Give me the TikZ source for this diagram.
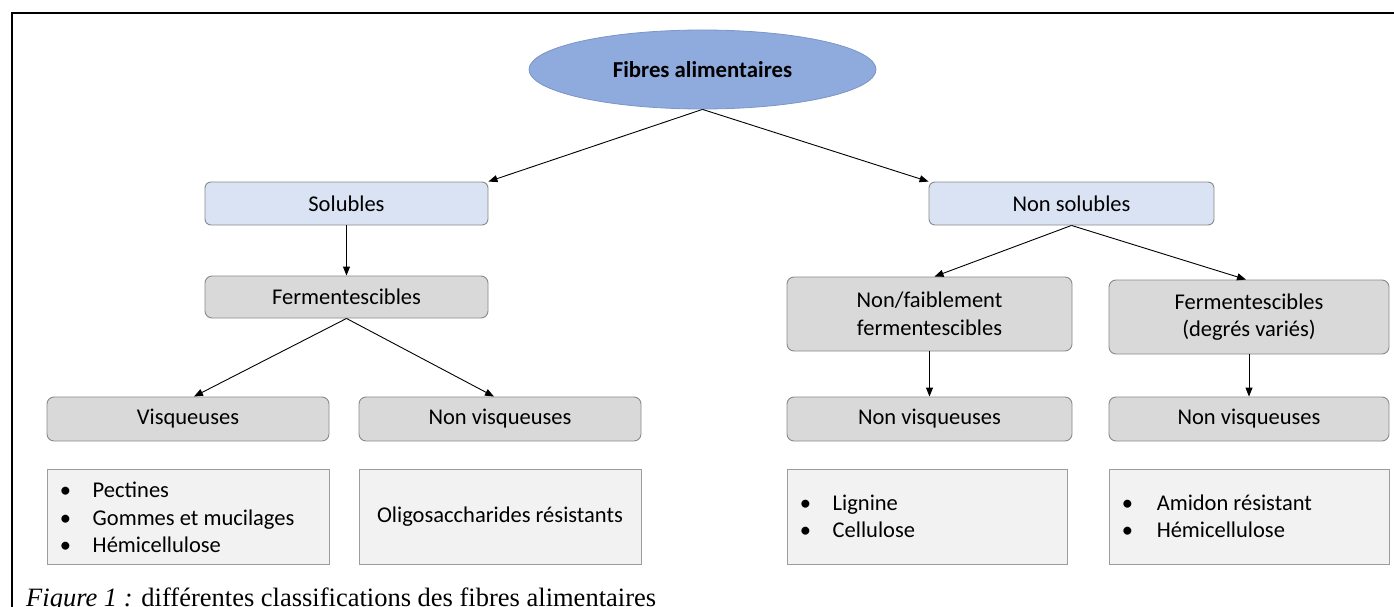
\documentclass[tikz,border=0pt]{standalone}
\usepackage{fontspec}
\setmainfont{Carlito}
\newfontfamily\capfont{Liberation Serif}
\usetikzlibrary{shapes.geometric,arrows.meta}
\definecolor{ellfill}{HTML}{8FAADC}
\definecolor{ellline}{HTML}{7A95C6}
\definecolor{bluebox}{HTML}{DAE3F3}
\definecolor{greybox}{HTML}{D9D9D9}
\definecolor{listbox}{HTML}{F2F2F2}
\definecolor{boxline}{HTML}{8A8A8A}
\begin{document}
\begin{tikzpicture}[x=1pt,y=-1pt,
  every node/.style={font=\fontsize{22.5}{27.5}\selectfont, text=black},
  rootnode/.style={ellipse, draw=ellline, fill=ellfill, line width=0.8pt, minimum width=347pt, minimum height=79pt, inner sep=0pt, font=\fontsize{22.8}{26}\selectfont\bfseries},
  bluenode/.style={rectangle, rounded corners=6pt, draw=boxline, fill=bluebox, line width=0.9pt, minimum height=43pt, inner sep=0pt},
  greynode/.style={rectangle, rounded corners=7pt, draw=boxline, fill=greybox, line width=0.9pt, inner sep=0pt, align=center},
  listnode/.style={rectangle, draw=boxline!85, fill=listbox, line width=0.9pt, minimum height=95pt, inner sep=0pt},
  listtext/.style={anchor=west, align=left, inner sep=0pt},
  arr/.style={-{Triangle[length=9pt,width=7pt]}, line width=0.9pt, draw=black}
]
\useasboundingbox (0,0) rectangle (1394,607);
\fill[white] (0,0) rectangle (1394,607);
\draw[line width=2pt] (12,607) -- (12,13) -- (1394,13);

\node[rootnode] (root) at (702.5,69.5) {Fibres alimentaires};

\node[bluenode, minimum width=283pt] (sol) at (346.5,203.5) {Solubles};
\node[bluenode, minimum width=285pt] (nsol) at (1071.5,203.5) {Non solubles};

\node[greynode, minimum width=283pt, minimum height=42pt] (ferm) at (346.5,297) {Fermentescibles};
\node[greynode, minimum width=282pt, minimum height=44pt] (visq) at (188,419) {Visqueuses};
\node[greynode, minimum width=282pt, minimum height=44pt] (nvisq) at (500,419) {Non visqueuses};

\node[greynode, minimum width=285pt, minimum height=74pt] (nf) at (929.5,314) {Non/faiblement\\fermentescibles};
\node[greynode, minimum width=280pt, minimum height=74pt] (fdv) at (1249,317) {Fermentescibles\\(degrés variés)};
\node[greynode, minimum width=285pt, minimum height=44pt] (nvb) at (929.5,419) {Non visqueuses};
\node[greynode, minimum width=280pt, minimum height=44pt] (nvc) at (1249,419) {Non visqueuses};

\node[listnode, minimum width=282pt] (la) at (188,516.5) {};
\node[listnode, minimum width=282pt] (lb) at (500,516.5) {Oligosaccharides résistants};
\node[listnode, minimum width=280pt] (lc) at (927,516.5) {};
\node[listnode, minimum width=280pt] (ld) at (1249,516.5) {};

\node[listtext] (lat) at ([xshift=13pt,yshift=-1pt]la.west)
  {\makebox[33pt][l]{•}Pectines\\\makebox[33pt][l]{•}Gommes et mucilages\\\makebox[33pt][l]{•}Hémicellulose};
\node[listtext] (lct) at ([xshift=13pt]lc.west)
  {\makebox[33pt][l]{•}Lignine\\\makebox[33pt][l]{•}Cellulose};
\node[listtext] (ldt) at ([xshift=13pt]ld.west)
  {\makebox[35pt][l]{•}Amidon résistant\\\makebox[35pt][l]{•}Hémicellulose};

\draw[arr] (root.south) -- (sol.north east);
\draw[arr] (root.south) -- (nsol.north west);
\draw[arr] (sol.south) -- (ferm.north);
\draw[arr] (ferm.south) -- ([xshift=6pt]visq.north);
\draw[arr] (ferm.south) -- ([xshift=-6pt]nvisq.north);
\draw[arr] (nsol.south) -- ([xshift=5pt]nf.north);
\draw[arr] (nsol.south) -- ([xshift=-3pt]fdv.north);
\draw[arr] (nf.south) -- (nvb.north);
\draw[arr] (fdv.south) -- (nvc.north);

\node[anchor=base west, inner sep=0pt, font=\capfont\fontsize{26.5}{30}\selectfont] (cap) at (26,606)
  {\textit{Figure 1 :} différentes classifications des fibres alimentaires};
\end{tikzpicture}
\end{document}
